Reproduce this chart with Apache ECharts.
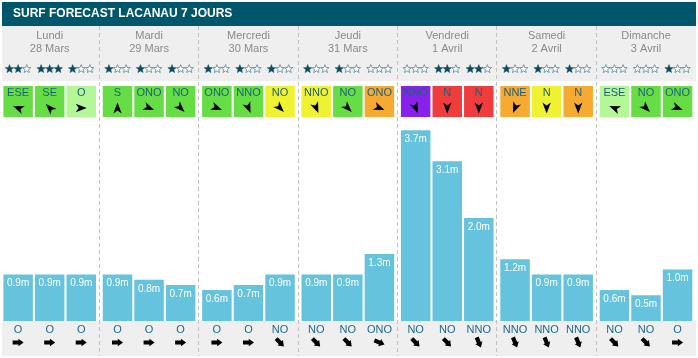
<!DOCTYPE html>
<html><head><meta charset="utf-8">
<script src="https://cdn.jsdelivr.net/npm/echarts@6/dist/echarts.min.js"></script>
<style>html,body{margin:0;padding:0;background:#fff}#c{width:698px;height:358px}</style>
</head><body><div id="c"></div>
<script>
// ---------- data ----------
const days = ['Lundi','Mardi','Mercredi','Jeudi','Vendredi','Samedi','Dimanche'];
const dates = ['28 Mars','29 Mars','30 Mars','31 Mars','1 Avril','2 Avril','3 Avril'];
// wave heights (m), three forecasts per day
const waveMorning = [0.9,0.9,0.6,0.9,3.7,1.2,0.6];
const waveMidday  = [0.9,0.8,0.7,0.9,3.1,0.9,0.5];
const waveEvening = [0.9,0.7,0.9,1.3,2.0,0.9,1.0];
const stars = [[2,3,1],[1,1,1],[1,1,1],[1,1,0],[0,2,2],[1,1,1],[0,0,1]];
const windDir = [['ESE','SE','O'],['S','ONO','NO'],['ONO','NNO','NO'],['NNO','NO','ONO'],['NNO','N','N'],['NNE','N','N'],['ESE','NO','ONO']];
// wind strength class (0 = very light ... 5 = very strong)
const windForce = [[1,1,0],[1,1,1],[1,1,2],[2,1,3],[5,4,4],[3,2,3],[0,1,1]];
const swellDir = [['O','O','O'],['O','O','O'],['O','O','NO'],['NO','NO','ONO'],['NO','NO','NNO'],['NNO','NNO','NNO'],['NO','NO','O']];

// ---------- styles ----------
const FONT = 'Arial, "Liberation Sans", sans-serif';
const windColors = ['#b4f796','#66dd44','#eef230','#f6aa32','#ef3c3c','#8822ea'];
const BAR_W = 29.5, BAR_GAP = 0.07, STEP = BAR_W * (1 + BAR_GAP);
const compass = {N:0,NNE:22.5,NE:45,ENE:67.5,E:90,ESE:112.5,SE:135,SSE:157.5,S:180,SSO:202.5,SO:225,OSO:247.5,O:270,ONO:292.5,NO:315,NNO:337.5};
const navArrow = [[0,-5.5],[4.2,5.5],[0,2.6],[-4.2,5.5]];
const fatArrow = [[-2.1,5.5],[-2.1,-0.3],[-3.8,-0.3],[0,-5.5],[3.8,-0.3],[2.1,-0.3],[2.1,5.5]];

function rot(pts, deg, cx, cy) {
  const t = deg * Math.PI / 180, c = Math.cos(t), s = Math.sin(t);
  return pts.map(([x, y]) => [cx + x * c - y * s, cy + x * s + y * c]);
}
function starPts(cx, cy, R, r) {
  const p = [];
  for (let i = 0; i < 10; i++) {
    const a = -Math.PI / 2 + i * Math.PI / 5, rr = i % 2 ? r : R;
    p.push([cx + rr * Math.cos(a), cy + rr * Math.sin(a)]);
  }
  return p;
}
const slotData = [];
days.forEach((_, d) => { for (let s = 0; s < 3; s++) slotData.push([d, 0]); });
function slotX(params, api) {
  const d = Math.floor(params.dataIndex / 3), s = params.dataIndex % 3;
  return { d, s, x: api.coord([d, 0])[0] + (s - 1) * STEP };
}

const G = { left: -2, right: 2.3 };
const grids = [
  { ...G, top: 26, height: 330 },  // 0 frame / separators
  { ...G, top: 26, height: 2 },    // 1 day labels
  { ...G, top: 61, height: 16 },   // 2 stars
  { ...G, top: 86, height: 31 },   // 3 wind
  { ...G, top: 121, bottom: 37 },  // 4 waves
  { ...G, top: 321, height: 35 }   // 5 swell
];
const xAxes = grids.map((g, i) => ({
  gridIndex: i, type: 'category', data: days, show: i === 1,
  axisLine: { show: false }, axisTick: { show: false }, splitLine: { show: false },
  axisLabel: { interval: 0, margin: 2, color: '#8a8a8a', fontSize: 11, lineHeight: 12.5, fontFamily: FONT,
    formatter: (v, idx) => v + '\n' + dates[idx] }
}));
const yAxes = grids.map((g, i) => ({ gridIndex: i, type: 'value', min: 0, max: i === 4 ? 3.88 : 1, show: false }));

const waveSeries = [waveMorning, waveMidday, waveEvening].map(arr => ({
  type: 'bar', xAxisIndex: 4, yAxisIndex: 4, data: arr, barWidth: BAR_W, barGap: (BAR_GAP * 100) + '%',
  itemStyle: { color: '#65c3de' }, silent: true,
  label: { show: true, position: 'insideTop', distance: 4, color: '#fff', fontSize: 10, fontFamily: FONT,
    textBorderWidth: 0, formatter: p => p.value.toFixed(1) + 'm' }
}));

const option = {
  animation: false,
  backgroundColor: '#fff',
  title: { text: 'SURF FORECAST LACANAU 7 JOURS', left: 13, top: 8, padding: 0, z: 20,
    textStyle: { color: '#fff', fontSize: 12, fontWeight: 'bold', fontFamily: FONT } },
  graphic: [
    { type: 'rect', z: -10, shape: { x: 2, y: 2, width: 694, height: 24 }, style: { fill: '#00566a' } },
    { type: 'rect', z: -10, shape: { x: 2, y: 26, width: 694, height: 55 }, style: { fill: '#efefef' } },
    { type: 'rect', z: -10, shape: { x: 2, y: 321, width: 694, height: 35 }, style: { fill: '#efefef' } }
  ],
  grid: grids,
  xAxis: xAxes,
  yAxis: yAxes,
  series: [
    ...waveSeries,
    { // day separators
      type: 'custom', xAxisIndex: 0, yAxisIndex: 0, silent: true, clip: false, z: 5,
      data: days.slice(1).map((_, i) => [i + 1, 0]),
      renderItem: (params, api) => {
        const cs = params.coordSys;
        const x = Math.floor(api.coord([api.value(0), 0])[0] - api.size([1, 0])[0] / 2) + 0.5;
        return { type: 'line', shape: { x1: x, y1: cs.y, x2: x, y2: cs.y + cs.height },
          style: { stroke: '#c2c2c2', lineWidth: 1, lineDash: [4, 3] } };
      }
    },
    { // star ratings
      type: 'custom', xAxisIndex: 2, yAxisIndex: 2, silent: true, clip: false, data: slotData,
      renderItem: (params, api) => {
        const { d, s, x } = slotX(params, api);
        const cy = params.coordSys.y + params.coordSys.height / 2;
        const children = [];
        for (let k = 0; k < 3; k++) {
          const filled = k < stars[d][s];
          children.push({ type: 'polygon', shape: { points: starPts(x + (k - 1) * 8.6, cy, 4.4, 1.9) },
            style: filled ? { fill: '#0d4b5e', stroke: '#0d4b5e', lineWidth: 0.5 }
                          : { fill: '#ffffff', stroke: '#5d8694', lineWidth: 0.8 } });
        }
        return { type: 'group', children };
      }
    },
    { // wind boxes
      type: 'custom', xAxisIndex: 3, yAxisIndex: 3, silent: true, clip: false, data: slotData,
      renderItem: (params, api) => {
        const { d, s, x } = slotX(params, api);
        const cs = params.coordSys;
        const ang = (compass[windDir[d][s]] + 180) % 360;
        return { type: 'group', children: [
          { type: 'rect', shape: { x: x - BAR_W / 2, y: cs.y, width: BAR_W, height: cs.height },
            style: { fill: windColors[windForce[d][s]] } },
          { type: 'text', style: { text: windDir[d][s], x: x, y: cs.y + 6.5, align: 'center', verticalAlign: 'middle',
            fill: '#1f5f7c', fontSize: 11, fontFamily: FONT } },
          { type: 'polygon', shape: { points: rot(navArrow, ang, x, cs.y + 22) }, style: { fill: '#000' } }
        ] };
      }
    },
    { // swell direction
      type: 'custom', xAxisIndex: 5, yAxisIndex: 5, silent: true, clip: false, data: slotData,
      renderItem: (params, api) => {
        const { d, s, x } = slotX(params, api);
        const cs = params.coordSys;
        const ang = (compass[swellDir[d][s]] + 180) % 360;
        return { type: 'group', children: [
          { type: 'text', style: { text: swellDir[d][s], x: x, y: cs.y + 8.5, align: 'center', verticalAlign: 'middle',
            fill: '#1b6890', fontSize: 11, fontFamily: FONT } },
          { type: 'polygon', shape: { points: rot(fatArrow, ang, x, cs.y + 21.5) }, style: { fill: '#000' } }
        ] };
      }
    }
  ]
};
const chart = echarts.init(document.getElementById('c'), null, { renderer: 'canvas' });
chart.setOption(option);
</script></body></html>
